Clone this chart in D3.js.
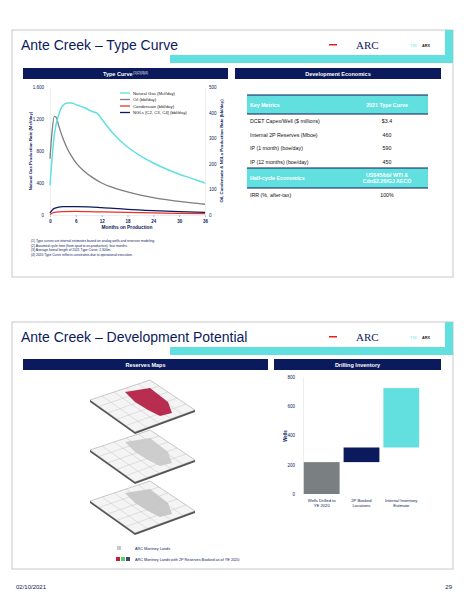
<!DOCTYPE html>
<html><head><meta charset="utf-8">
<script src="https://cdn.jsdelivr.net/npm/d3@7"></script>
<style>body{margin:0;background:#fff}svg{font-family:Arial,"Liberation Sans",sans-serif}</style>
</head><body><svg id="page" width="464" height="600"></svg>
<script>
var navy = "#0b1a5c", cyan = "#62dfdf", grey = "#7a7f82";

// type curve data (months, gas Mcf/d on left axis, liquids bbl/d on right axis)
var gasMonths = [0, 1, 2, 3, 4, 5, 6, 8, 10, 11, 12, 15, 18, 21, 24, 27, 30, 33, 36];
var gasValues = [370, 1000, 1250, 1370, 1400, 1400, 1380, 1340, 1290, 1270, 1200, 1000, 850, 740, 650, 575, 510, 455, 400];
var oilMonths = [0, 0.5, 1, 1.5, 2, 3, 4, 5, 6, 8, 10, 12, 15, 18, 21, 24, 27, 30, 33, 36];
var oilValues = [220, 330, 385, 380, 350, 300, 260, 230, 205, 170, 145, 125, 105, 90, 78, 68, 60, 53, 47, 42];
var liqMonths = [0, 1, 3, 6, 9, 12, 18, 24, 30, 36];
var condValues = [2, 10, 13, 14, 13, 12, 10, 8, 6, 5];
var nglValues = [8, 26, 33, 33, 32, 29, 22, 17, 13, 10];
var leftTicks = [0, 400, 800, 1200, 1600];
var rightTicks = [0, 100, 200, 300, 400, 500];
var monthTicks = [0, 6, 12, 18, 24, 30, 36];

var legendNames = ["Natural Gas (Mcf/day)", "Oil (bbl/day)", "Condensate (bbl/day)", "NGLs [C2, C3, C4] (bbl/day)"];
var legendColors = [cyan, grey, "#f0302a", navy];

var metricNames = ["DCET Capex/Well ($ millions)", "Internal 2P Reserves (Mboe)", "IP (1 month) (boe/day)", "IP (12 months) (boe/day)"];
var metricValues = ["$3.4", "460", "590", "450"];

// drilling inventory waterfall
var invCategories = [["Wells Drilled to", "YE 2020"], ["2P Booked", "Locations"], ["Internal Inventory", "Estimate"]];
var invStarts = [0, 218, 318];
var invEnds = [218, 318, 724];
var invColors = [grey, navy, cyan];
var wellTicks = [0, 200, 400, 600, 800];

var svg = d3.select("#page");

function slide(y0, title) {
	svg.append("rect").attr("x", 12).attr("y", y0).attr("width", 441).attr("height", 247)
		.attr("fill", "#fff").attr("stroke", "#c8c8c8");
	svg.append("rect").attr("x", 170).attr("y", y0 + 25).attr("width", 283).attr("height", 8).attr("fill", cyan);
	svg.append("rect").attr("x", 445).attr("y", y0).attr("width", 8).attr("height", 33).attr("fill", cyan);
	svg.append("text").attr("x", 21).attr("y", y0 + 20).attr("font-size", 14).attr("fill", navy).text(title);
	svg.append("rect").attr("x", 329).attr("y", y0 + 14).attr("width", 8).attr("height", 1.5).attr("fill", "#e52020");
	svg.append("text").attr("x", 356).attr("y", y0 + 19).attr("font-size", 11).attr("font-family", "Liberation Serif,serif")
		.attr("fill", navy).text("ARC");
	svg.append("text").attr("x", 410).attr("y", y0 + 17).attr("font-size", 3.5).attr("fill", cyan).text("TSX");
	svg.append("text").attr("x", 422).attr("y", y0 + 17).attr("font-size", 3.8).attr("font-weight", "bold").attr("fill", "#222").text("ARX");
}
function header(x, y, w, label, sup) {
	svg.append("rect").attr("x", x).attr("y", y).attr("width", w).attr("height", 11).attr("fill", navy);
	var t = svg.append("text").attr("x", x + w / 2).attr("y", y + 8).attr("text-anchor", "middle")
		.attr("font-size", 5.5).attr("font-weight", "bold").attr("fill", "#fff").text(label);
	if (sup) t.append("tspan").attr("font-size", 3).attr("font-weight", "normal").attr("dy", -2).text(" " + sup);
}

slide(30, "Ante Creek \u2013 Type Curve");
header(23, 68, 205, "Type Curve", "(1)(2)(3)(4)");
header(235, 68, 206, "Development Economics");

// ---- type curve chart
var x = d3.scaleLinear().domain([0, 36]).range([50, 205]);
var yL = d3.scaleLinear().domain([0, 1600]).range([215, 87]);
var yR = d3.scaleLinear().domain([0, 500]).range([215, 87]);
var small = function(g) { g.selectAll("text").attr("font-size", 4.5).attr("fill", navy); g.selectAll("line,path").attr("stroke", "#bbb"); };

svg.append("g").attr("transform", "translate(0,215)")
	.call(d3.axisBottom(x).tickValues(monthTicks).tickSize(2)).call(small)
	.selectAll("text").attr("font-weight", "bold");
svg.append("g").attr("transform", "translate(50,0)")
	.call(d3.axisLeft(yL).tickValues(leftTicks).tickFormat(d3.format(",")).tickSize(0).tickPadding(6)).call(small);
svg.append("g").attr("transform", "translate(205,0)")
	.call(d3.axisRight(yR).tickValues(rightTicks).tickSize(0).tickPadding(4)).call(small);
svg.selectAll(".domain").attr("stroke", "#ddd");

var line = function(months, vals, ys) {
	return d3.line().curve(d3.curveMonotoneX).x(function(d, i) { return x(months[i]); }).y(function(d) { return ys(d); })(vals);
};
svg.append("path").attr("d", line(liqMonths, condValues, yR)).attr("fill", "none").attr("stroke", legendColors[2]).attr("stroke-width", 1.3);
svg.append("path").attr("d", line(liqMonths, nglValues, yR)).attr("fill", "none").attr("stroke", navy).attr("stroke-width", 1.3);
svg.append("path").attr("d", line(oilMonths, oilValues, yR)).attr("fill", "none").attr("stroke", grey).attr("stroke-width", 1.3);
svg.append("path").attr("d", line(gasMonths, gasValues, yL)).attr("fill", "none").attr("stroke", cyan).attr("stroke-width", 1.5);

legendNames.forEach(function(n, i) {
	var ly = 93 + i * 6.5;
	svg.append("line").attr("x1", 120).attr("x2", 130).attr("y1", ly).attr("y2", ly).attr("stroke", legendColors[i]).attr("stroke-width", 1.3);
	svg.append("text").attr("x", 133).attr("y", ly + 1.5).attr("font-size", 4.3).attr("fill", "#222").text(n);
});
svg.append("text").attr("x", 127).attr("y", 229).attr("text-anchor", "middle").attr("font-size", 4.8)
	.attr("font-weight", "bold").attr("fill", navy).text("Months on Production");
svg.append("text").attr("transform", "translate(32,151) rotate(-90)").attr("text-anchor", "middle").attr("font-size", 4.3)
	.attr("font-weight", "bold").attr("fill", navy).text("Natural Gas Production Rate (Mcf/day)");
svg.append("text").attr("transform", "translate(223,151) rotate(-90)").attr("text-anchor", "middle").attr("font-size", 4.3)
	.attr("font-weight", "bold").attr("fill", navy).text("Oil, Condensate & NGLs Production Rate (bbl/day)");

var notes = ["(1)   Type curves are internal estimates based on analog wells and reservoir modeling.",
	"(2)   Assumed cycle time (from spud to on-production): four months.",
	"(3)   Average lateral length of 2021 Type Curve: 2,300m.",
	"(4)   2020 Type Curve reflects constraints due to operational execution."];
notes.forEach(function(n, i) {
	svg.append("text").attr("x", 31).attr("y", 242 + i * 4.5).attr("font-size", 3.3).attr("fill", navy).text(n);
});

// ---- economics table
function cyanRow(y, h, l, r) {
	svg.append("rect").attr("x", 247).attr("y", y).attr("width", 181).attr("height", h).attr("fill", cyan);
	svg.append("line").attr("x1", 247).attr("x2", 428).attr("y1", y).attr("y2", y).attr("stroke", navy).attr("stroke-width", 1);
	svg.append("line").attr("x1", 247).attr("x2", 428).attr("y1", y + h).attr("y2", y + h).attr("stroke", navy).attr("stroke-width", 1);
	svg.append("text").attr("x", 250).attr("y", y + h / 2 + 2).attr("font-size", 5.3).attr("font-weight", "bold").attr("fill", "#fff").text(l);
	r.forEach(function(s, i) {
		svg.append("text").attr("x", 387).attr("y", y + h / 2 + 2 + (i - (r.length - 1) / 2) * 6).attr("text-anchor", "middle")
			.attr("font-size", 5.3).attr("font-weight", "bold").attr("fill", "#fff").text(s);
	});
}
cyanRow(95, 19, "Key Metrics", ["2021 Type Curve"]);
metricNames.forEach(function(n, i) {
	var ry = 123 + i * 13.5;
	svg.append("text").attr("x", 250).attr("y", ry).attr("font-size", 5.3).attr("fill", "#111").text(n);
	svg.append("text").attr("x", 387).attr("y", ry).attr("text-anchor", "middle").attr("font-size", 5.3).attr("fill", "#111").text(metricValues[i]);
});
cyanRow(168, 20, "Half-cycle Economics", ["US$45/bbl WTI &", "Cdn$2.20/GJ AECO"]);
svg.append("text").attr("x", 250).attr("y", 197).attr("font-size", 5.3).attr("fill", "#111").text("IRR (%, after-tax)");
svg.append("text").attr("x", 387).attr("y", 197).attr("text-anchor", "middle").attr("font-size", 5.3).attr("fill", "#111").text("100%");

// ---- slide 2
slide(322, "Ante Creek \u2013 Development Potential");
header(23, 359, 245, "Reserves Maps");
header(274, 359, 167, "Drilling Inventory");

var bx = d3.scaleBand().domain([0, 1, 2]).range([303, 420]).paddingInner(0.1).paddingOuter(0.02);
var by = d3.scaleLinear().domain([0, 800]).range([494, 377]);
svg.append("g").attr("transform", "translate(303,0)")
	.call(d3.axisLeft(by).tickValues(wellTicks).tickSize(0).tickPadding(8)).call(small);
svg.selectAll(".domain").attr("stroke", "#eee");
svg.selectAll(".bar").data(invStarts).enter().append("rect").attr("class", "bar")
	.attr("x", function(d, i) { return bx(i); }).attr("width", bx.bandwidth())
	.attr("y", function(d, i) { return by(invEnds[i]); })
	.attr("height", function(d, i) { return by(d) - by(invEnds[i]); })
	.attr("fill", function(d, i) { return invColors[i]; });
invCategories.forEach(function(c, i) {
	c.forEach(function(s, j) {
		svg.append("text").attr("x", bx(i) + bx.bandwidth() / 2).attr("y", 502 + j * 5).attr("text-anchor", "middle")
			.attr("font-size", 4.2).attr("fill", navy).text(s);
	});
});
svg.append("text").attr("transform", "translate(287,436) rotate(-90)").attr("text-anchor", "middle")
	.attr("font-size", 4.5).attr("font-weight", "bold").attr("fill", navy).text("Wells");

// map layers (stylised isometric plates)
var layerTops = [380, 430, 481];
var layerFills = ["#b3173f", "#c9c9c9", "#c4c4c4"];
layerTops.forEach(function(t, k) {
	var pts = [[90, t + 20], [150, t], [195, t + 30], [135, t + 52]];
	var g = svg.append("g");
	g.append("path").attr("d", "M" + pts.map(function(p) { return p.join(","); }).join("L") + "Z")
		.attr("fill", "#f4f4f4").attr("stroke", "#999").attr("stroke-width", 0.5);
	g.append("path").attr("d", "M90," + (t + 20) + "L135," + (t + 52) + "L195," + (t + 30) + "L195," + (t + 32) + "L135," + (t + 54) + "L90," + (t + 22) + "Z")
		.attr("fill", "#555");
	for (var s = 1; s < 5; s++) {
		var f = s / 5;
		g.append("line").attr("x1", 90 + 60 * f).attr("y1", t + 20 - 20 * f).attr("x2", 135 + 60 * f).attr("y2", t + 52 - 22 * f).attr("stroke", "#bbb").attr("stroke-width", 0.4);
		g.append("line").attr("x1", 90 + 45 * f).attr("y1", t + 20 + 32 * f).attr("x2", 150 + 45 * f).attr("y2", t + 30 * f).attr("stroke", "#bbb").attr("stroke-width", 0.4);
	}
	g.append("path").attr("d", "M125," + (t + 12) + "L150," + (t + 8) + "L168," + (t + 22) + "L172," + (t + 33) + "L160," + (t + 36) + "L148," + (t + 30) + "L135," + (t + 22) + "Z")
		.attr("fill", layerFills[k]).attr("opacity", 0.9);
});

svg.append("rect").attr("x", 117).attr("y", 546).attr("width", 4).attr("height", 4).attr("fill", "#c8c8c8");
svg.append("text").attr("x", 135).attr("y", 549.5).attr("font-size", 3.8).attr("fill", navy).text("ARC Montney Lands");
["#c8193f", "#55d06a", "#3c4a72"].forEach(function(c, i) {
	svg.append("rect").attr("x", 116 + i * 5).attr("y", 557).attr("width", 4).attr("height", 4).attr("fill", c);
});
svg.append("text").attr("x", 135).attr("y", 560.5).attr("font-size", 3.8).attr("fill", navy).text("ARC Montney Lands with 2P Reserves Booked as of YE 2020");

svg.append("text").attr("x", 16).attr("y", 589).attr("font-size", 6).attr("fill", navy).text("02/10/2021");
svg.append("text").attr("x", 452).attr("y", 589).attr("text-anchor", "end").attr("font-size", 6).attr("fill", navy).text("29");
</script></body></html>
